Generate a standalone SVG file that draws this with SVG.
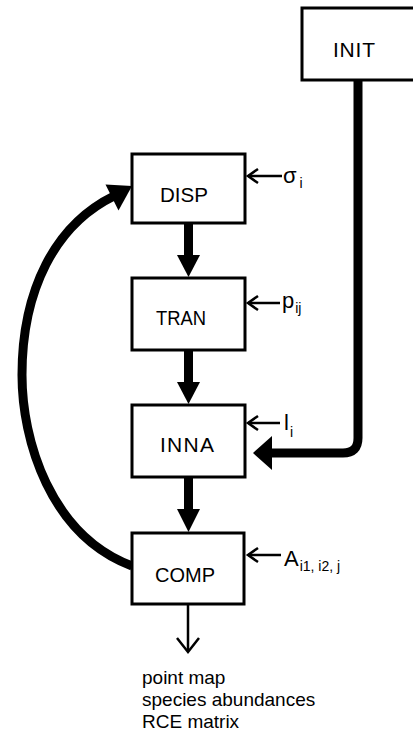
<svg xmlns="http://www.w3.org/2000/svg" width="413" height="741" viewBox="0 0 413 741">
<defs>
<style>
.box{fill:#fff;stroke:#000;stroke-width:3}
.lbl{font-family:"Liberation Sans","DejaVu Sans",sans-serif;font-size:21px;fill:#000;text-anchor:middle}
.side{font-family:"Liberation Sans","DejaVu Sans",sans-serif;font-size:22px;fill:#000}
.sub{font-family:"Liberation Sans","DejaVu Sans",sans-serif;font-size:14px;fill:#000}
.out{font-family:"Liberation Sans","DejaVu Sans",sans-serif;font-size:19px;fill:#000}
.thick{fill:none;stroke:#000;stroke-width:9}
.thin{fill:none;stroke:#000;stroke-width:2.5}
.head{fill:#000;stroke:none}
.open{fill:none;stroke:#000;stroke-width:2.5;stroke-linejoin:miter}
</style>
</defs>
<rect width="413" height="741" fill="#fff"/>

<g id="connectors">
  <!-- DISP -> TRAN -->
  <line class="thick" x1="188.5" y1="223" x2="188.5" y2="258"/>
  <polygon class="head" points="177,255 200,255 188.5,277"/>
  <!-- TRAN -> INNA -->
  <line class="thick" x1="188.5" y1="350" x2="188.5" y2="385"/>
  <polygon class="head" points="177,382 200,382 188.5,404"/>
  <!-- INNA -> COMP -->
  <line class="thick" x1="188.5" y1="477" x2="188.5" y2="512"/>
  <polygon class="head" points="177,509 200,509 188.5,532"/>
  <!-- INIT -> INNA -->
  <path class="thick" d="M358,80 V438 Q358,453 343,453 H268"/>
  <polygon class="head" points="253,453 272,436 272,470"/>
  <!-- COMP -> DISP feedback -->
  <path class="thick" d="M132,566 C50,535 22,440 22,375 C22,290 55,225 114,196"/>
  <polygon class="head" points="132,186 105.5,184.5 118.5,210.5"/>
  <!-- COMP output -->
  <line class="thin" x1="188" y1="604" x2="188" y2="651"/>
  <polyline class="open" points="177,638 188,652 199,638"/>
  <!-- side inputs -->
  <line class="thin" x1="248" y1="176" x2="282" y2="176"/>
  <polyline class="open" points="258,169 248,176 258,183"/>
  <line class="thin" x1="248" y1="303" x2="280" y2="303"/>
  <polyline class="open" points="258,296 248,303 258,310"/>
  <line class="thin" x1="248" y1="423" x2="280" y2="423"/>
  <polyline class="open" points="258,416 248,423 258,430"/>
  <line class="thin" x1="248" y1="555" x2="281" y2="555"/>
  <polyline class="open" points="258,548 248,555 258,562"/>
</g>

<g id="INIT">
  <rect class="box" x="302" y="8" width="130" height="72"/>
  <text class="lbl" x="354" y="57" textLength="42" lengthAdjust="spacing">INIT</text>
</g>
<g id="DISP">
  <rect class="box" x="132" y="154" width="113" height="69"/>
  <text class="lbl" x="184" y="202" textLength="48" lengthAdjust="spacingAndGlyphs">DISP</text>
  <text class="side" x="283" y="183">σ<tspan class="sub" dx="3" dy="5">i</tspan></text>
</g>
<g id="TRAN">
  <rect class="box" x="132" y="278" width="113" height="72"/>
  <text class="lbl" x="181" y="325" textLength="50" lengthAdjust="spacingAndGlyphs">TRAN</text>
  <text class="side" x="282" y="308">p<tspan class="sub" dx="1" dy="5">ij</tspan></text>
</g>
<g id="INNA">
  <rect class="box" x="132" y="405" width="113" height="72"/>
  <text class="lbl" x="187" y="452" textLength="54" lengthAdjust="spacing">INNA</text>
  <text class="side" x="284" y="430">l<tspan class="sub" dx="1" dy="7">i</tspan></text>
</g>
<g id="COMP">
  <rect class="box" x="132" y="533" width="112" height="71"/>
  <text class="lbl" x="185" y="582" textLength="60" lengthAdjust="spacingAndGlyphs">COMP</text>
  <text class="side" x="284" y="566">A<tspan class="sub" dx="1" dy="5">i1, i2, j</tspan></text>
</g>
<g id="output">
  <text class="out" x="142" y="684">point map</text>
  <text class="out" x="142" y="706">species abundances</text>
  <text class="out" x="142" y="728">RCE matrix</text>
</g>
</svg>
